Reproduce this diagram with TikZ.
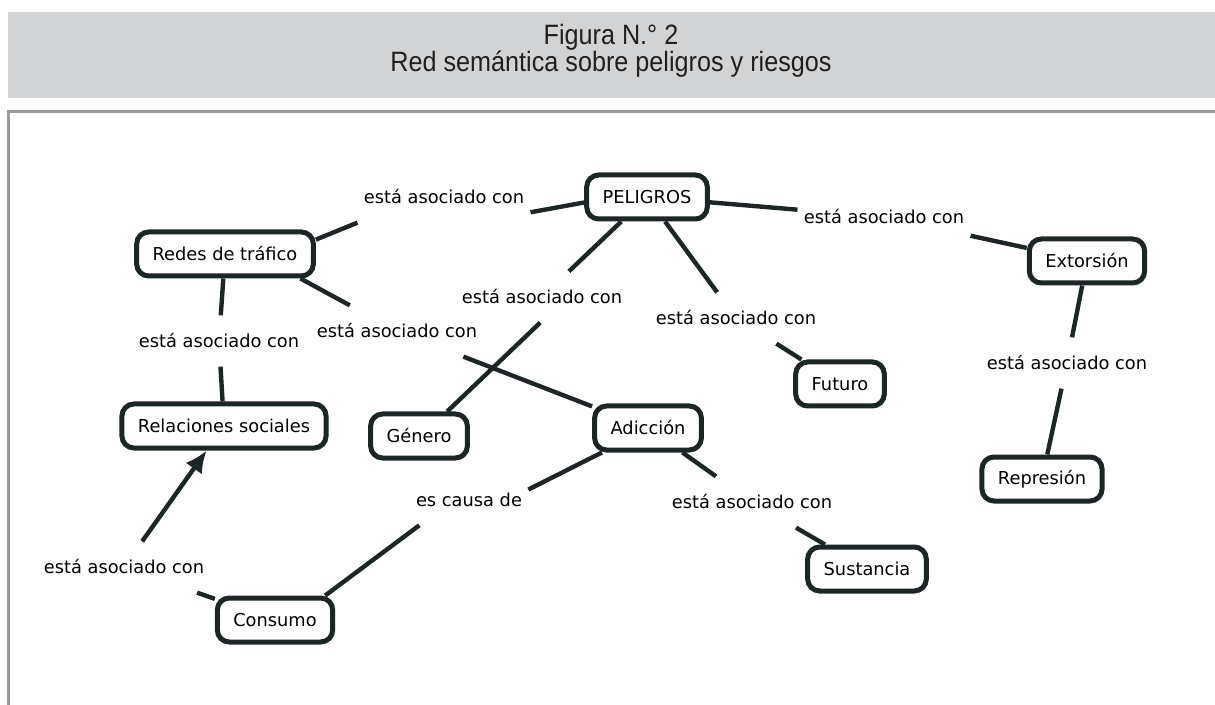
\documentclass[tikz,border=0pt]{standalone}
\usepackage{fontspec}
\setmainfont{Liberation Sans}
\newfontfamily\titlefont[FakeStretch=0.9]{Liberation Sans}
\newfontfamily\mapfont{DejaVu Sans}
\usetikzlibrary{arrows.meta}
\definecolor{bandgrey}{HTML}{D1D3D4}
\definecolor{framegrey}{HTML}{9B9B9B}
\definecolor{titleink}{HTML}{231F20}
\definecolor{mapink}{HTML}{1C2626}

\begin{document}
\begin{tikzpicture}[x=0.5pt, y=-0.5pt]
\tikzstyle{concept} = [rectangle, rounded corners=6pt, draw=mapink, line width=2.5pt, fill=white, minimum height=22pt, inner xsep=8pt, font=\mapfont\fontsize{8.9}{10}\selectfont]
\tikzstyle{rel} = [inner xsep=3pt, inner ysep=9pt, font=\mapfont\fontsize{8.9}{10}\selectfont]
\tikzstyle{connect} = [draw=mapink, line width=2.2pt]
\tikzstyle{title} = [font=\titlefont\fontsize{14}{16}\selectfont, text=titleink]
\useasboundingbox (0,0) rectangle (1215,705);
% header and frame
\fill[bandgrey] (8,12) rectangle (1215,98);
\node[title] (fig) at (611,37) {Figura N.° 2};
\node[title] (caption) at (611,64) {Red semántica sobre peligros y riesgos};
\draw[framegrey, line width=1.5pt] (8.5,705) -- (8.5,112) -- (1215,112);
% concepts
  \node[concept] (peligros) at (647,197) {PELIGROS};
  \node[concept] (redes) at (225,254) {Redes de tráfico};
  \node[concept] (extorsion) at (1087,261) {Extorsión};
  \node[concept] (relaciones) at (224,426) {Relaciones sociales};
  \node[concept] (genero) at (419,436) {Género};
  \node[concept] (adiccion) at (648,428) {Adicción};
  \node[concept] (futuro) at (840,384) {Futuro};
  \node[concept] (represion) at (1042,479) {Represión};
  \node[concept] (sustancia) at (867,569) {Sustancia};
  \node[concept] (consumo) at (275,620) {Consumo};
% linking phrases
  \node[rel] (l1) at (444,197) {está asociado con};
  \node[rel] (l2) at (884,217) {está asociado con};
  \node[rel] (l3) at (542,297) {está asociado con};
  \node[rel] (l4) at (736,318) {está asociado con};
  \node[rel] (l5) at (397,331) {está asociado con};
  \node[rel] (l6) at (219,341) {está asociado con};
  \node[rel] (l7) at (1067,363) {está asociado con};
  \node[rel] (l8) at (752,502) {está asociado con};
  \node[rel] (l9) at (469,500) {es causa de};
  \node[rel] (l10) at (124,567) {está asociado con};
\path (redes.9) edge [connect] (l1.south west) (l1.-10) edge [connect] (peligros.185)
      (peligros) edge [connect] (l2) (l2) edge [connect] (extorsion)
      (peligros) edge [connect] (l3) (l3.-94) edge [connect] (genero.41)
      (peligros) edge [connect] (l4) (l4) edge [connect] (futuro)
      (redes.-18) edge [connect] (l5) (l5) edge [connect] (adiccion)
      (redes) edge [connect] (l6) (l6) edge [connect] (relaciones)
      (extorsion) edge [connect] (l7) (l7) edge [connect] (represion)
      (adiccion) edge [connect] (l8) (l8) edge [connect] (sustancia)
      (adiccion.208) edge [connect] (l9.10) (l9.207) edge [connect] (consumo.26)
      (consumo) edge [connect] (l10)
      (l10) edge [connect, -{Latex[length=11pt, width=10pt]}] (relaciones);
\end{tikzpicture}
\end{document}
